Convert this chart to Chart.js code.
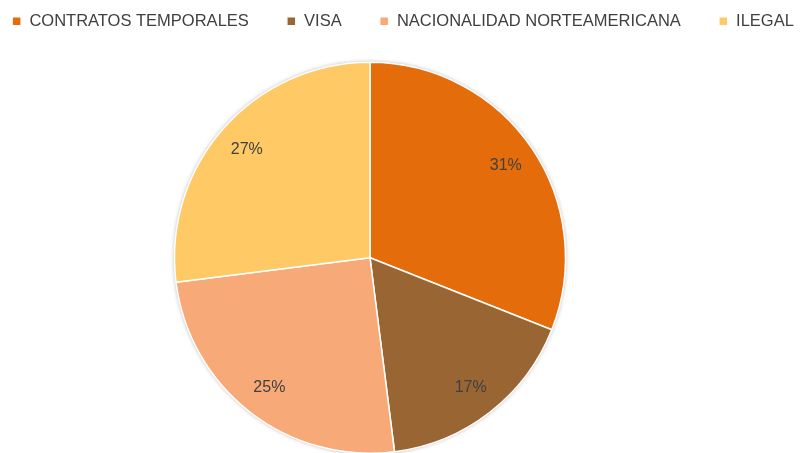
<!DOCTYPE html>
<html>
<head>
<meta charset="utf-8">
<script src="https://cdn.jsdelivr.net/npm/chart.js@4/dist/chart.umd.min.js"></script>
<style>
  html, body { margin: 0; padding: 0; background: #fff; overflow: hidden; }
  #wrap { width: 806px; height: 470px; position: relative; }
</style>
</head>
<body>
<div id="wrap"><canvas id="pieChart"></canvas></div>
<script>
const labels = ['CONTRATOS TEMPORALES', 'VISA', 'NACIONALIDAD NORTEAMERICANA', 'ILEGAL'];
const values = [31, 17, 25, 27];
const colors = ['#E46C0A', '#996633', '#F7A978', '#FFC965'];

// keep the legend on one row and tweak its height so the pie starts where it should
const legendFit = {
  id: 'legendFit',
  beforeInit(chart) {
    const fit = chart.legend.fit;
    chart.legend.fit = function () {
      const mw = this.maxWidth;
      this.maxWidth = mw + 60;
      fit.call(this);
      this.maxWidth = mw;
      this.width = Math.min(this.width, mw);
      this.height += 22;
    };
  },
  afterLayout(chart) {
    const lg = chart.legend;
    lg.left -= 30;
    lg.right += 30;
    lg.width = lg.right - lg.left;
    // pie sits a bit left of centre, like the Excel plot area
    const a = chart.chartArea;
    a.right -= 66;
    a.width = a.right - a.left;
  }
};

// soft shadow behind the whole pie
const pieShadow = {
  id: 'pieShadow',
  beforeDatasetsDraw(chart) {
    const arc = chart.getDatasetMeta(0).data[0];
    if (!arc) return;
    const ctx = chart.ctx;
    ctx.save();
    ctx.shadowColor = 'rgba(0,0,0,0.35)';
    ctx.shadowBlur = 4;
    ctx.beginPath();
    ctx.arc(arc.x, arc.y, arc.outerRadius, 0, Math.PI * 2);
    ctx.fillStyle = '#fff';
    ctx.fill();
    ctx.restore();
  }
};

// percentage labels inside each slice
const pctLabels = {
  id: 'pctLabels',
  afterDatasetsDraw(chart) {
    const ctx = chart.ctx;
    const total = values.reduce((a, b) => a + b, 0);
    ctx.save();
    ctx.font = '16px "Liberation Sans", Arial, sans-serif';
    ctx.fillStyle = '#404040';
    ctx.textAlign = 'center';
    ctx.textBaseline = 'middle';
    chart.getDatasetMeta(0).data.forEach((arc, i) => {
      const mid = (arc.startAngle + arc.endAngle) / 2;
      const r = arc.outerRadius * 0.84;
      ctx.fillText(Math.round(values[i] / total * 100) + '%', arc.x + Math.cos(mid) * r, arc.y + Math.sin(mid) * r);
    });
    ctx.restore();
  }
};

new Chart(document.getElementById('pieChart'), {
  type: 'pie',
  data: {
    labels,
    datasets: [{
      data: values,
      backgroundColor: colors,
      borderColor: '#fff',
      borderWidth: 1.5,
      hoverOffset: 0
    }]
  },
  options: {
    responsive: true,
    maintainAspectRatio: false,
    animation: false,
    layout: { padding: { top: -25, bottom: 16, left: 0, right: 0 } },
    plugins: {
      legend: {
        position: 'top',
        labels: {
          usePointStyle: true,
          pointStyle: 'rect',
          boxWidth: 9,
          boxHeight: 9,
          padding: 38,
          color: '#404040',
          font: { family: '"Liberation Sans", Arial, sans-serif', size: 16.5 }
        }
      },
      tooltip: { enabled: false }
    }
  },
  plugins: [legendFit, pieShadow, pctLabels]
});
</script>
</body>
</html>
